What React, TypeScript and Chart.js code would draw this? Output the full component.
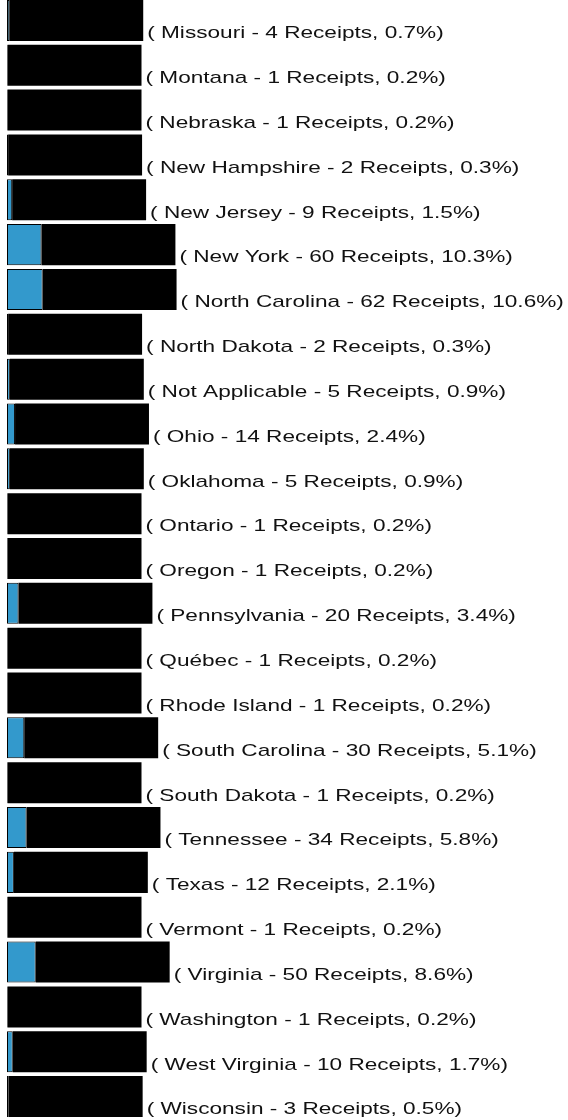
import React, { useEffect, useRef } from "react";
import { Chart, registerables } from "chart.js";

Chart.register(...registerables);

const categories = [
  "Missouri", "Montana", "Nebraska", "New Hampshire", "New Jersey", "New York",
  "North Carolina", "North Dakota", "Not Applicable", "Ohio", "Oklahoma", "Ontario",
  "Oregon", "Pennsylvania", "Québec", "Rhode Island", "South Carolina", "South Dakota",
  "Tennessee", "Texas", "Vermont", "Virginia", "Washington", "West Virginia", "Wisconsin",
];
const receipts = [4, 1, 1, 2, 9, 60, 62, 2, 5, 14, 5, 1, 1, 20, 1, 1, 30, 1, 34, 12, 1, 50, 1, 10, 3];
const percents = ["0.7", "0.2", "0.2", "0.3", "1.5", "10.3", "10.6", "0.3", "0.9", "2.4", "0.9", "0.2", "0.2", "3.4", "0.2", "0.2", "5.1", "0.2", "5.8", "2.1", "0.2", "8.6", "0.2", "1.7", "0.5"];
const spacerValue = 233;
const spacer = categories.map(() => spacerValue);
const xMax = 976;

const labelPlugin = {
  id: "endLabels",
  afterDatasetsDraw(chart: any) {
    const ctx = chart.ctx;
    const meta = chart.getDatasetMeta(1);
    ctx.save();
    ctx.font = "17px 'Liberation Sans', Arial, sans-serif";
    ctx.fillStyle = "#111";
    ctx.textBaseline = "alphabetic";
    ctx.textAlign = "left";
    meta.data.forEach((bar: any, i: number) => {
      const text = `( ${categories[i]} - ${receipts[i]} Receipts, ${percents[i]}%)`;
      ctx.save();
      ctx.translate(bar.x + 4, bar.y + 17.8);
      ctx.scale(1.33, 1);
      ctx.fillText(text, 0, 0);
      ctx.restore();
    });
    ctx.restore();
  },
};

export default function App() {
  const ref = useRef<HTMLCanvasElement | null>(null);
  useEffect(() => {
    if (!ref.current) return;
    const chart = new Chart(ref.current, {
      type: "bar",
      data: {
        labels: categories,
        datasets: [
          {
            data: receipts,
            backgroundColor: "#3399CC",
            borderColor: "#000",
            borderWidth: 1,
            borderSkipped: false,
            barPercentage: 0.915,
            categoryPercentage: 1,
            stack: "s",
          },
          {
            data: spacer,
            backgroundColor: "#000",
            borderWidth: 0,
            barPercentage: 0.915,
            categoryPercentage: 1,
            stack: "s",
          },
        ],
      },
      options: {
        indexAxis: "y",
        responsive: false,
        animation: false,
        maintainAspectRatio: false,
        layout: { padding: { left: 7, right: 0, top: 0, bottom: 0 } },
        plugins: { legend: { display: false }, tooltip: { enabled: false } },
        scales: {
          x: { display: false, stacked: true, min: 0, max: xMax },
          y: { display: false, stacked: true },
        },
      },
      plugins: [labelPlugin],
    });
    return () => chart.destroy();
  }, []);
  return (
    <div style={{ position: "absolute", left: 0, top: -2, width: 568, height: 1121 }}>
      <canvas ref={ref} width={568} height={1121} style={{ display: "block" }} />
    </div>
  );
}
